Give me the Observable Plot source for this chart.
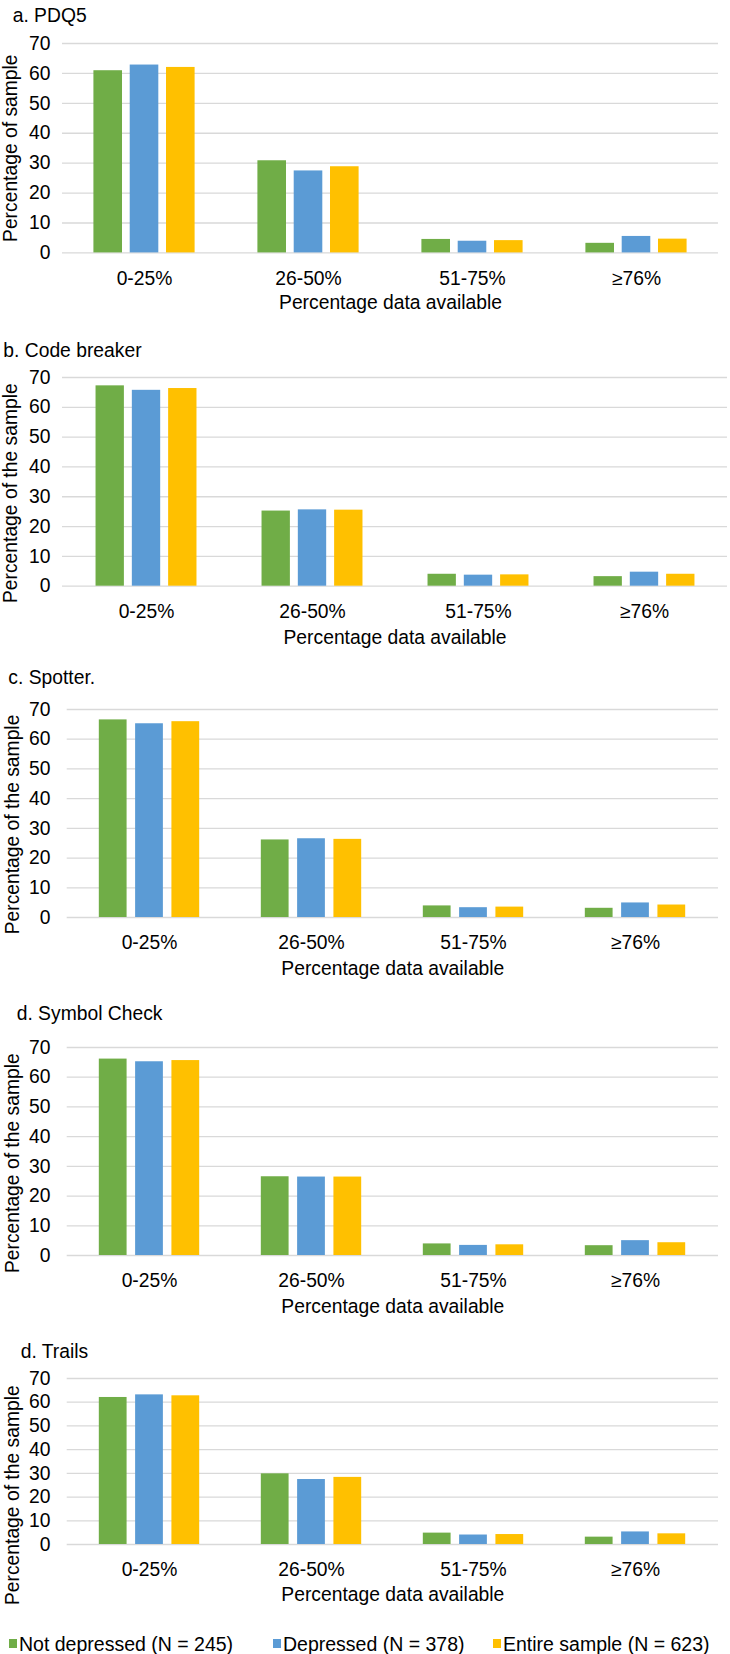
<!DOCTYPE html>
<html><head><meta charset="utf-8">
<script src="https://cdn.jsdelivr.net/npm/d3@7"></script>
<script src="https://cdn.jsdelivr.net/npm/@observablehq/plot@0.6"></script>
<style>
body{margin:0;background:#fff;}
#root{position:relative;width:730px;height:1654px;font-family:"Liberation Sans",Arial,sans-serif;color:#000;overflow:hidden;}
.title{position:absolute;font-size:19.3px;line-height:19px;white-space:nowrap;}
.panel{position:absolute;left:0;}
.legend-item{position:absolute;font-size:19.5px;line-height:20px;height:20px;white-space:nowrap;display:flex;align-items:center;}
.sw{display:inline-block;width:8px;height:9px;margin-right:2px;}
</style></head><body><div id="root"></div>
<script>
// ---- data ----
const categories = ["0-25%", "26-50%", "51-75%", "≥76%"];
const seriesNames = ["Not depressed (N = 245)", "Depressed (N = 378)", "Entire sample (N = 623)"];
const yTicks = [0, 10, 20, 30, 40, 50, 60, 70];
const panelTitles = ["a. PDQ5", "b. Code breaker", "c. Spotter.", "d. Symbol Check", "d. Trails"];
const yLabels = ["Percentage of sample", "Percentage of the sample", "Percentage of the sample", "Percentage of the sample", "Percentage of the sample"];
const xLabel = "Percentage data available";

// rows: Not depressed, Depressed, Entire sample ; columns follow categories
const pdq5        = [[60.9, 30.8, 4.5, 3.2], [62.8, 27.4, 3.9, 5.5], [62.0, 28.8, 4.1, 4.6]];
const codeBreaker = [[67.2, 25.2, 4.0, 3.2], [65.7, 25.6, 3.7, 4.7], [66.3, 25.5, 3.8, 4.0]];
const spotter     = [[66.5, 26.1, 3.9, 3.1], [65.2, 26.5, 3.3, 4.9], [65.9, 26.3, 3.5, 4.2]];
const symbolCheck = [[66.1, 26.5, 3.9, 3.3], [65.2, 26.4, 3.4, 5.0], [65.6, 26.4, 3.6, 4.3]];
const trails      = [[62.0, 29.8, 4.8, 3.1], [63.1, 27.4, 4.0, 5.3], [62.7, 28.3, 4.2, 4.5]];
const panelValues = [pdq5, codeBreaker, spotter, symbolCheck, trails];

// ---- styles / layout ----
const colors = ["#70ad47", "#5b9bd5", "#ffc000"];
const GRID = "#d9d9d9";
const FONT = 19.3;
const BAR_W = 28.6;
const BAR_STEP = 36.3;
const layouts = [
  {titleY: 15,   titleX: 12.7, y70: 43.3,   y0: 252.7,  xLabelY: 303,  left: 62,   right: 718, yLabelX: 10.5, yLabelY: 148,  yTickPad: 12},
  {titleY: 350,  titleX: 3.3,  y70: 377.3,  y0: 586,    xLabelY: 638,  left: 62,   right: 727, yLabelX: 10.5, yLabelY: 493,  yTickPad: 12},
  {titleY: 677,  titleX: 8.3,  y70: 709,    y0: 917,    xLabelY: 968,  left: 66.7, right: 718, yLabelX: 12,   yLabelY: 824,  yTickPad: 16.7},
  {titleY: 1013, titleX: 16.7, y70: 1047.3, y0: 1255.3, xLabelY: 1307, left: 66.7, right: 718, yLabelX: 12,   yLabelY: 1163, yTickPad: 16.7},
  {titleY: 1351, titleX: 20.7, y70: 1378.3, y0: 1544.3, xLabelY: 1595, left: 66.7, right: 718, yLabelX: 12,   yLabelY: 1495, yTickPad: 16.7}
];
const legendLefts = [9, 273, 493];
const legendCenterY = 1643.5;

const root = document.getElementById("root");

function drawPanel(vals, L, title, yLabel) {
  const data = [];
  seriesNames.forEach((s, i) => categories.forEach((c, j) => data.push({cat: c, series: s, value: vals[i][j]})));
  const marginTop = 14;
  const marginBottom = Math.round(L.xLabelY + 16 - L.y0);
  const innerH = L.y0 - L.y70;
  const height = marginTop + innerH + marginBottom;
  const bw = (L.right - L.left) / categories.length;
  const inset = (bw - BAR_W) / 2;
  const marks = [Plot.ruleY(yTicks, {stroke: GRID, strokeWidth: 1.3})];
  seriesNames.forEach((s, i) => {
    marks.push(Plot.barY(data.filter(d => d.series === s), {
      x: "cat", y: "value", fill: "series",
      insetLeft: inset, insetRight: inset, dx: (i - 1) * BAR_STEP
    }));
  });
  marks.push(Plot.text([yLabel], {
    text: d => d, frameAnchor: "left", rotate: -90,
    dx: L.yLabelX - L.left, dy: L.yLabelY - (L.y70 + L.y0) / 2,
    fontSize: FONT, fill: "#000", textAnchor: "middle", lineAnchor: "middle"
  }));
  marks.push(Plot.text([xLabel], {
    text: d => d, frameAnchor: "bottom", dy: L.xLabelY - L.y0,
    fontSize: FONT, fill: "#000", textAnchor: "middle", lineAnchor: "middle"
  }));
  const svg = Plot.plot({
    width: 730,
    height,
    marginTop,
    marginBottom,
    marginLeft: L.left,
    marginRight: 730 - L.right,
    style: {fontFamily: '"Liberation Sans", Arial, sans-serif', fontSize: FONT + "px", color: "#000", background: "transparent", overflow: "visible"},
    x: {type: "band", domain: categories, padding: 0, tickSize: 0, tickPadding: 18, label: null},
    y: {domain: [0, 70], ticks: yTicks, tickSize: 0, tickPadding: L.yTickPad, label: null},
    color: {domain: seriesNames, range: colors},
    marks
  });
  const wrap = document.createElement("div");
  wrap.className = "panel";
  wrap.style.top = (L.y70 - marginTop) + "px";
  wrap.appendChild(svg);
  root.appendChild(wrap);

  const t = document.createElement("div");
  t.className = "title";
  t.textContent = title;
  t.style.left = L.titleX + "px";
  t.style.top = (L.titleY - 9.5) + "px";
  root.appendChild(t);
}

panelValues.forEach((v, i) => drawPanel(v, layouts[i], panelTitles[i], yLabels[i]));

seriesNames.forEach((s, i) => {
  const item = document.createElement("div");
  item.className = "legend-item";
  item.style.left = legendLefts[i] + "px";
  item.style.top = (legendCenterY - 10) + "px";
  const sw = document.createElement("span");
  sw.className = "sw";
  sw.style.background = colors[i];
  const tx = document.createElement("span");
  tx.textContent = s;
  item.appendChild(sw);
  item.appendChild(tx);
  root.appendChild(item);
});
</script></body></html>
